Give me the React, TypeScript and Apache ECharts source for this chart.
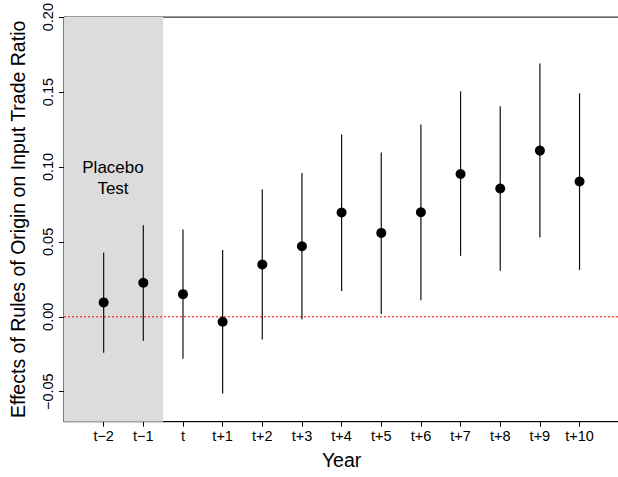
import React, { useEffect, useRef } from "react";
import * as echarts from "echarts";

const categories = ["t\u22122", "t\u22121", "t", "t+1", "t+2", "t+3", "t+4", "t+5", "t+6", "t+7", "t+8", "t+9", "t+10"];
const estimates = [0.0096, 0.0227, 0.0151, -0.0033, 0.0349, 0.0471, 0.0696, 0.056, 0.0698, 0.0953, 0.0856, 0.1109, 0.0903];
const lower = [-0.024, -0.016, -0.028, -0.0511, -0.0151, -0.0017, 0.0173, 0.0018, 0.0111, 0.0407, 0.0307, 0.0529, 0.0313];
const upper = [0.0429, 0.0611, 0.0583, 0.0445, 0.0849, 0.096, 0.1216, 0.1096, 0.1283, 0.1505, 0.1405, 0.169, 0.1491];
const yTicks = [-0.05, 0, 0.05, 0.1, 0.15, 0.2];
const xPositions = categories.map((_, i) => i + 1);
const placeboEnd = 2.5;
const placeboLabel = "Placebo\nTest";
const zeroLine = [[0, 0], [14, 0]];

const FONT = "'Liberation Sans', Arial, Helvetica, sans-serif";

export default function App() {
  const ref = useRef<HTMLDivElement>(null);
  useEffect(() => {
    if (!ref.current) return;
    const chart = echarts.init(ref.current, null, { renderer: "svg" });
    const fmtY = (v: number) => {
      const s = Math.abs(v).toFixed(2);
      return v < -1e-9 ? "\u2212" + s : s;
    };
    chart.setOption({
      animation: false,
      backgroundColor: "#ffffff",
      textStyle: { fontFamily: FONT, color: "#000" },
      grid: {
        left: 62.7,
        top: 16,
        width: 556.5,
        height: 405.7,
        show: true,
        borderColor: "#000",
        borderWidth: 1,
        backgroundColor: "transparent",
      },
      xAxis: {
        type: "value",
        min: 0,
        max: 14,
        name: "Year",
        nameLocation: "middle",
        nameGap: 28,
        nameTextStyle: { fontSize: 19.5, color: "#000", fontFamily: FONT },
        axisLine: { show: true, onZero: false, lineStyle: { color: "#000", width: 1 } },
        axisTick: { show: true, length: 5, lineStyle: { color: "#000" }, customValues: xPositions },
        axisLabel: {
          show: true,
          fontSize: 14.5,
          color: "#000",
          margin: 7,
          fontFamily: FONT,
          customValues: xPositions,
          formatter: (v: number) => categories[Math.round(v) - 1] ?? "",
        },
        splitLine: { show: false },
      },
      yAxis: {
        type: "value",
        min: -0.07,
        max: 0.2,
        name: "Effects of Rules of Origin on Input Trade Ratio",
        nameLocation: "middle",
        nameGap: 36,
        nameTextStyle: { fontSize: 19.5, color: "#000", fontFamily: FONT },
        axisLine: { show: true, onZero: false, lineStyle: { color: "#000", width: 1 } },
        axisTick: { show: true, length: 5, lineStyle: { color: "#000" }, customValues: yTicks },
        axisLabel: {
          show: true,
          fontSize: 14.5,
          color: "#000",
          rotate: 90,
          margin: 9,
          fontFamily: FONT,
          customValues: yTicks,
          formatter: fmtY,
        },
        splitLine: { show: false },
      },
      graphic: [
        {
          type: "text",
          x: 113,
          y: 178,
          z: 10,
          style: {
            text: placeboLabel,
            fontSize: 17,
            lineHeight: 21,
            fontFamily: FONT,
            fill: "#000",
            align: "center",
            verticalAlign: "middle",
          },
        },
      ],
      series: [
        {
          type: "line",
          name: "zero",
          z: 2,
          silent: true,
          symbol: "none",
          showSymbol: false,
          color: "#ff0000",
          lineStyle: { color: "#ff0000", type: [2, 2], width: 1, opacity: 1 },
          data: zeroLine,
        },
        {
          type: "custom",
          name: "ci",
          z: 3,
          data: xPositions.map((x, i) => [x, lower[i], upper[i]]),
          encode: { x: 0, y: [1, 2] },
          renderItem: (params: any, api: any) => {
            const x = api.value(0);
            const p1 = api.coord([x, api.value(1)]);
            const p2 = api.coord([x, api.value(2)]);
            return {
              type: "line",
              shape: { x1: p1[0], y1: p1[1], x2: p2[0], y2: p2[1] },
              style: { stroke: "#111", lineWidth: 1.2 },
            };
          },
          markArea: {
            silent: true,
            z: 1,
            itemStyle: { color: "#dcdcdc", opacity: 1 },
            data: [[{ xAxis: 0, yAxis: -0.07 }, { xAxis: placeboEnd, yAxis: 0.2 }]],
          },
        },
        {
          type: "scatter",
          name: "est",
          z: 4,
          symbol: "circle",
          symbolSize: 10,
          itemStyle: { color: "#000", opacity: 1 },
          data: xPositions.map((x, i) => [x, estimates[i]]),
        },
      ],
    });
    return () => chart.dispose();
  }, []);
  return (
    <div
      ref={ref}
      style={{ position: "fixed", left: 0, top: 0, width: 620, height: 477, background: "#fff" }}
    />
  );
}
